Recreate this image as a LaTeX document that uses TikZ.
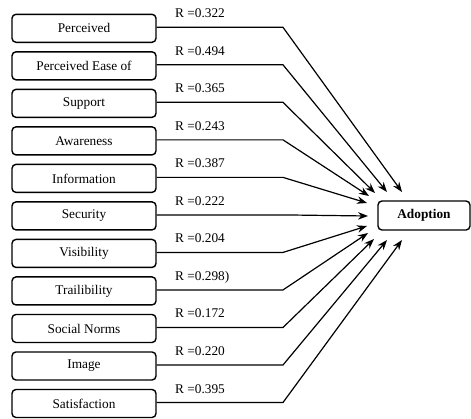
\documentclass[tikz,border=0pt]{standalone}
\usepackage{fontspec}
\setmainfont{Liberation Serif}
\usetikzlibrary{arrows.meta}
\begin{document}
\begin{tikzpicture}[x=1pt,y=-1pt,
  varbox/.style={draw,line width=1.4pt,rounded corners=4pt,minimum width=144pt,minimum height=28pt,inner sep=0pt,font=\fontsize{13.3}{15}\selectfont},
  rlabel/.style={anchor=base west,inner sep=0pt,font=\fontsize{13.3}{15}\selectfont},
  conn/.style={line width=1.2pt,-{Stealth[length=10pt,width=7.5pt]}}]
\useasboundingbox (0,0) rectangle (471,418);
\node[varbox,font=\fontsize{13.3}{15}\selectfont\bfseries,minimum width=92pt,minimum height=29pt] (ad) at (424,215.5) {Adoption};
\foreach \i/\txt/\r/\tx/\ty in {
  1/Perceived/0.322/402/192,
  2/Perceived Ease of/0.494/387/192,
  3/Support/0.365/375/193,
  4/Awareness/0.243/369/196,
  5/Information/0.387/367/203,
  6/Security/0.222/368/216,
  7/Visibility/0.204/367/226,
  8/Trailibility/0.298)/368/233,
  9/Social Norms/0.172/374/239,
  10/Image/0.220/387/240,
  11/Satisfaction/0.395/402/240}{
  \pgfmathsetmacro{\cy}{28.3+37.52*(\i-1)}
  \node[varbox] (b\i) at (84,\cy) {\txt};
  \coordinate (t\i) at (\tx,\ty);
  \coordinate (k\i) at (283,\cy-1);
  \node[rlabel] (l\i) at (175,\cy-10.5) {R =\r};
  \draw[conn] ([yshift=1pt]b\i.east) -- (k\i) -- (t\i);
}
\end{tikzpicture}
\end{document}
